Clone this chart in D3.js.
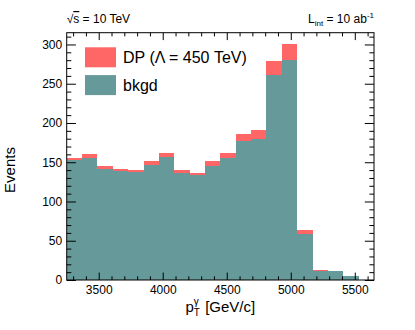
<!DOCTYPE html>
<html>
<head>
<meta charset="utf-8">
<script src="https://d3js.org/d3.v7.min.js"></script>
<style>
body{margin:0;background:#fff;}
svg{font-family:"Liberation Sans",Arial,Helvetica,sans-serif;}
.tickLabels text{font-size:12px;fill:#000;}
.tickLabels path,.minor path,.mirror path{display:none;}
.tick line{stroke:#000;}
.bars rect{shape-rendering:crispEdges;}
</style>
</head>
<body>
<svg></svg>
<script>
// bin lower edges (GeV/c), 120 GeV wide
var binEdges = [3250,3370,3490,3610,3730,3850,3970,4090,4210,4330,
                4450,4570,4690,4810,4930,5050,5170,5290,5410,5530]
var binWidth = 120
// background events per bin
var bkgd = [153,156,142,139,137,147,157,136,134,145,
            155,177,180,261,280,59,11,11,5,0]
// dark photon signal on top
var dp = [3,4,3,3,3,5,5,4,2,6,
          7,9,11,18,20,5,2,0,0,0]
var xTicks = [3500,4000,4500,5000,5500]
var yTicks = [0,50,100,150,200,250,300]

var makeTranslateString = function(x,y)
{
    return "translate("+x+","+y+")";
}

var drawBars = function(target,xScale,yScale,graph)
{
    var bins = binEdges.map(function(e,i){
        return {lo:e, bkgd:bkgd[i], total:bkgd[i]+dp[i]}
    })
    var bars = target.append("g").classed("bars",true)
    //bkgd (teal)
    bars.append("g").selectAll("rect")
        .data(bins)
        .enter()
        .append("rect")
        .attr("x",function(b){return xScale(b.lo)})
        .attr("y",function(b){return yScale(b.bkgd)})
        .attr("width",function(b){return xScale(b.lo+binWidth)-xScale(b.lo)})
        .attr("height",function(b){return graph.height-yScale(b.bkgd)})
        .attr("fill","#669999")
    //signal stacked on top (red)
    bars.append("g").selectAll("rect")
        .data(bins)
        .enter()
        .append("rect")
        .attr("x",function(b){return xScale(b.lo)})
        .attr("y",function(b){return yScale(b.total)})
        .attr("width",function(b){return xScale(b.lo+binWidth)-xScale(b.lo)})
        .attr("height",function(b){return yScale(b.bkgd)-yScale(b.total)})
        .attr("fill","#ff6666")
}

var drawAxes = function(target,graph,xScale,yScale)
{
    var xMinor = d3.range(3300,5601,100).filter(function(v){return v%500!=0})
    var yMinor = d3.range(10,311,10).filter(function(v){return v%50!=0})
    var xMajLen = 7.4, yMajLen = 9.2
    var fmt = d3.format("d")

    //bottom
    target.append("g").classed("tickLabels",true)
        .attr("transform",makeTranslateString(0,graph.height))
        .call(d3.axisBottom(xScale).tickValues(xTicks)
              .tickSize(-xMajLen).tickPadding(5.5).tickFormat(fmt))
    target.append("g").classed("minor",true)
        .attr("transform",makeTranslateString(0,graph.height))
        .call(d3.axisBottom(xScale).tickValues(xMinor)
              .tickSize(-xMajLen/2).tickFormat(""))
    //top
    target.append("g").classed("mirror",true)
        .call(d3.axisTop(xScale).tickValues(xTicks)
              .tickSize(-xMajLen).tickFormat(""))
    target.append("g").classed("mirror",true)
        .call(d3.axisTop(xScale).tickValues(xMinor)
              .tickSize(-xMajLen/2).tickFormat(""))
    //left
    target.append("g").classed("tickLabels",true)
        .call(d3.axisLeft(yScale).tickValues(yTicks)
              .tickSize(-yMajLen).tickPadding(4.5).tickFormat(fmt))
    target.append("g").classed("minor",true)
        .call(d3.axisLeft(yScale).tickValues(yMinor)
              .tickSize(-yMajLen/2).tickFormat(""))
    //right
    target.append("g").classed("mirror",true)
        .attr("transform",makeTranslateString(graph.width,0))
        .call(d3.axisRight(yScale).tickValues(yTicks)
              .tickSize(-yMajLen).tickFormat(""))
    target.append("g").classed("mirror",true)
        .attr("transform",makeTranslateString(graph.width,0))
        .call(d3.axisRight(yScale).tickValues(yMinor)
              .tickSize(-yMajLen/2).tickFormat(""))

    target.append("rect")
        .attr("width",graph.width)
        .attr("height",graph.height)
        .attr("fill","none")
        .attr("stroke","#000")
        .attr("stroke-width",1)
}

var drawLabels = function(graph,margins)
{
    var svg = d3.select("svg")
    var labels = svg.append("g").classed("labels",true)

    //x title
    var xt = labels.append("text")
        .attr("font-size",15)
        .attr("y",margins.top+graph.height+32)
    xt.append("tspan").text("p")
    xt.append("tspan").text("\u03b3").attr("font-size",10).attr("dy",-7)
    var gW = xt.node().getSubStringLength(1,1)
    xt.append("tspan").text("T").attr("font-size",10).attr("dx",-gW).attr("dy",11)
    xt.append("tspan").text(" [GeV/c]").attr("dx",gW>7?gW-7:1).attr("dy",-4)
    var bb = xt.node().getBBox()
    xt.attr("x",margins.left+graph.width/2-bb.width/2)

    //y title
    labels.append("text")
        .text("Events")
        .attr("font-size",15)
        .attr("text-anchor","middle")
        .attr("transform","translate(15,170) rotate(-90)")

    //sqrt(s)
    var st = labels.append("text")
        .attr("font-size",12)
        .attr("x",margins.left)
        .attr("y",23)
    st.append("tspan").text("\u221a")
    st.append("tspan").text("s").attr("text-decoration","overline")
    st.append("tspan").text(" = 10 TeV")

    //luminosity
    var lt = labels.append("text")
        .attr("font-size",12)
        .attr("text-anchor","end")
        .attr("x",margins.left+graph.width)
        .attr("y",23)
    lt.append("tspan").text("L")
    lt.append("tspan").text("int").attr("font-size",8).attr("dy",3)
    lt.append("tspan").text(" = 10 ab").attr("dy",-3)
    lt.append("tspan").text("-1").attr("font-size",8).attr("dy",-5)
}

var drawLegend = function(graph,margins)
{
    var categories = [
        {name:"DP (\u039b = 450 TeV)", color:"#ff6666"},
        {name:"bkgd", color:"#669999"}
    ]
    var legend = d3.select("svg")
        .append("g")
        .classed("legend",true)
        .attr("transform",makeTranslateString(85,47.3))
    var entries = legend.selectAll("g")
        .data(categories)
        .enter()
        .append("g")
        .attr("transform",function(c,index){
            return makeTranslateString(0,index*27.8)
        })
    entries.append("rect")
        .attr("width",31)
        .attr("height",20)
        .attr("fill",function(c){return c.color})
    entries.append("text")
        .text(function(c){return c.name})
        .attr("font-size",16)
        .attr("x",38)
        .attr("y",15.8)
}

var initGraph = function()
{
    var screen = {width:415,height:330}
    var margins = {left:66.7,right:41,top:32.7,bottom:50}
    var graph = {
        width:screen.width-margins.left-margins.right,
        height:screen.height-margins.top-margins.bottom
    }
    d3.select("svg")
        .attr("width",screen.width)
        .attr("height",screen.height)

    var target = d3.select("svg")
        .append("g")
        .attr("id","graph")
        .attr("transform",makeTranslateString(margins.left,margins.top))

    var xScale = d3.scaleLinear()
        .domain([3250,5650])
        .range([0,graph.width])
    var yScale = d3.scaleLinear()
        .domain([0,315])
        .range([graph.height,0])

    drawBars(target,xScale,yScale,graph)
    drawAxes(target,graph,xScale,yScale)
    drawLabels(graph,margins)
    drawLegend(graph,margins)
}

initGraph()
</script>
</body>
</html>
